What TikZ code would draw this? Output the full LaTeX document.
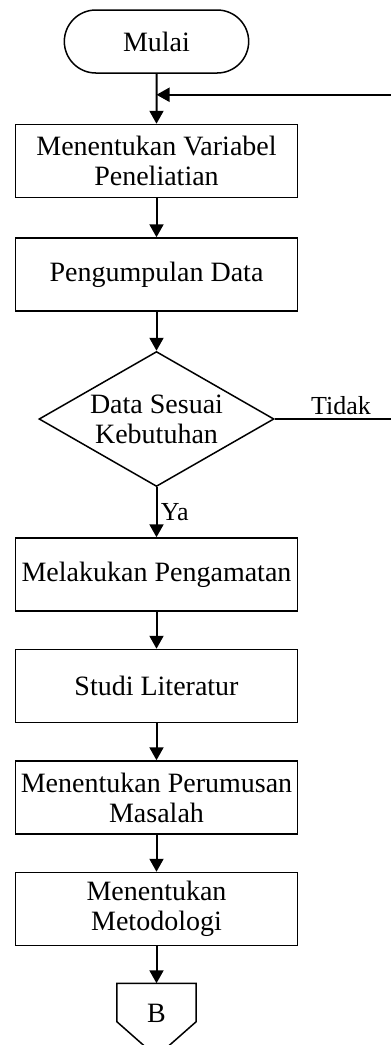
\documentclass[tikz,border=0pt]{standalone}
\usepackage{fontspec}
\setmainfont{Liberation Serif}
\usetikzlibrary{shapes,arrows.meta,positioning,calc}

\begin{document}
\begin{tikzpicture}
[x=1pt,y=1pt,
font=\fontsize{28}{30}\selectfont,
edge/.style={black,>={Triangle[length=13pt,width=14pt]}, line width=2pt},
block/.style={draw=black,line width=1.5pt,minimum width=282pt,minimum height=73pt,align=center,inner sep=2pt},
term/.style={draw=black,line width=1.5pt,rounded rectangle,minimum width=191pt,minimum height=63pt},
decision/.style={draw=black,line width=1.5pt,diamond,aspect=1.74,inner sep=0pt,minimum width=235pt,minimum height=135pt,align=center},
lbl/.style={font=\fontsize{26}{28}\selectfont}]
\useasboundingbox (0,0) rectangle (391,-1045);
%%
\node[term] (mulai) at (156.5,-41.5) {Mulai};
\node[block,below=50pt of mulai] (var) {Menentukan Variabel\\Peneliatian};
\node[block,below=39pt of var] (data) {Pengumpulan Data};
\node[decision,below=39pt of data] (cek) {Data Sesuai\\Kebutuhan};
\node[block,below=50pt of cek] (amat) {Melakukan Pengamatan};
\node[block,below=37pt of amat] (studi) {Studi Literatur};
\node[block,below=37pt of studi] (masalah) {Menentukan Perumusan\\Masalah};
\node[block,below=37pt of masalah] (metode) {Menentukan\\Metodologi};
\node[below=37pt of metode,minimum width=79pt,minimum height=73pt,inner sep=0pt] (B)
{\raisebox{7pt}[\height][\depth]{B}};
\draw[line width=1.5pt] (B.north west) -- (B.north east) -- ([yshift=35pt]B.south east)
-- (B.south) -- ([yshift=35pt]B.south west) -- cycle;
%%
\coordinate (kanan) at (393,0);
\coordinate (balik) at ($(mulai.south)!.42!(var.north)$);
\draw[edge,->] (mulai) -- (var);
\draw[edge,->] (var) -- (data);
\draw[edge,->] (data) -- (cek);
\draw[edge,->] (cek) -- node[lbl,right] {Ya} (amat);
\draw[edge,->] (amat) -- (studi);
\draw[edge,->] (studi) -- (masalah);
\draw[edge,->] (masalah) -- (metode);
\draw[edge,->] (metode) -- (B.north);
\draw[edge,->] (cek.east) -- node[lbl,above,pos=.56] {Tidak} (cek.east -| kanan) |- (balik);
\end{tikzpicture}
\end{document}
